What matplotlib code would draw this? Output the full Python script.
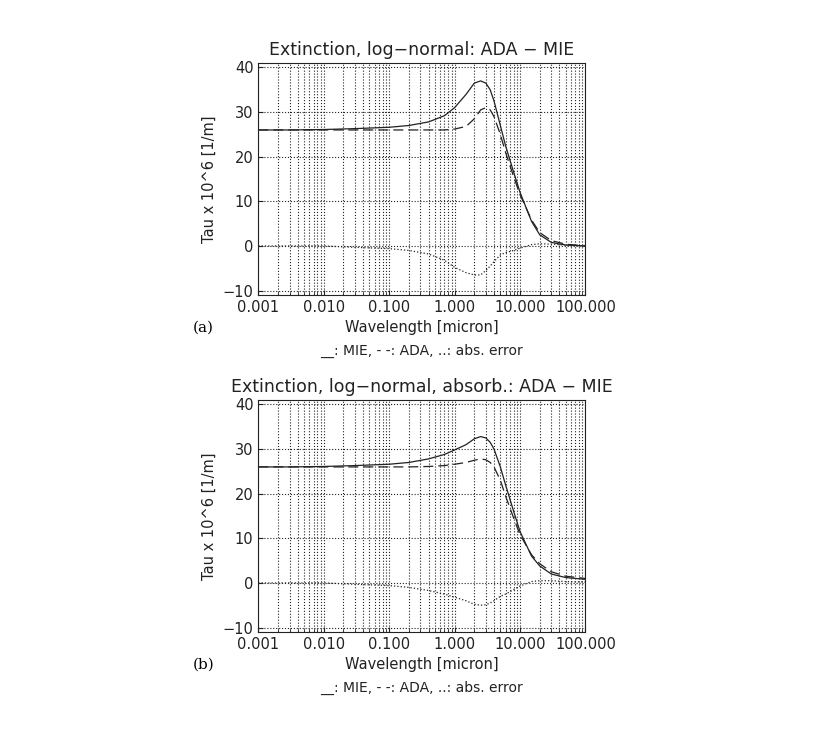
import numpy as np
import matplotlib
matplotlib.use("Agg")
import matplotlib.pyplot as plt

wl = [0.001, 0.003, 0.01, 0.03, 0.1, 0.2, 0.4, 0.7, 1.0, 1.5, 2.0, 2.5, 3.0, 3.5, 4.0, 5.0, 6.0, 8.0, 10.0, 15.0, 20.0, 30.0, 50.0, 100.0]
mie_a = [26.0, 26.0, 26.1, 26.3, 26.6, 27.0, 27.8, 29.2, 31.0, 34.0, 36.5, 37.0, 36.5, 35.0, 32.5, 27.0, 22.5, 16.5, 12.0, 5.5, 2.5, 0.8, 0.2, 0.0]
ada_a = [26.0, 26.0, 26.0, 26.0, 26.0, 26.0, 26.0, 26.0, 26.2, 26.8, 28.5, 30.5, 31.0, 30.5, 29.0, 25.0, 21.0, 15.5, 11.5, 5.8, 3.0, 1.2, 0.4, 0.0]
err_a = [0.0, 0.0, 0.0, -0.3, -0.6, -1.0, -1.8, -3.2, -4.8, -6.0, -6.5, -6.5, -5.5, -4.5, -3.5, -2.0, -1.5, -1.0, -0.5, 0.3, 0.5, 0.4, 0.2, 0.0]
mie_b = [26.0, 26.0, 26.1, 26.3, 26.6, 27.0, 27.8, 28.8, 29.8, 31.0, 32.3, 32.8, 32.5, 31.5, 30.0, 26.0, 22.0, 16.0, 11.5, 6.0, 3.8, 2.0, 1.2, 0.8]
ada_b = [26.0, 26.0, 26.0, 26.0, 26.0, 26.0, 26.1, 26.3, 26.6, 27.0, 27.5, 27.8, 27.6, 27.0, 26.0, 23.0, 19.5, 14.5, 10.8, 6.3, 4.3, 2.5, 1.5, 1.0]
err_b = [0.0, 0.0, 0.0, -0.3, -0.6, -1.0, -1.7, -2.5, -3.2, -4.0, -4.8, -5.0, -4.9, -4.5, -4.0, -3.0, -2.5, -1.5, -0.7, 0.3, 0.5, 0.5, 0.3, 0.2]
xticks = [0.001, 0.01, 0.1, 1.0, 10.0, 100.0]
xticklabels = ["0.001", "0.010", "0.100", "1.000", "10.000", "100.000"]
titles = ["Extinction, log\u2212normal: ADA \u2212 MIE", "Extinction, log\u2212normal, absorb.: ADA \u2212 MIE"]
panel = ["(a)", "(b)"]

fig = plt.figure(figsize=(8.2, 7.33), dpi=100)
c = "#222222"
for i, (m, a, e) in enumerate([(mie_a, ada_a, err_a), (mie_b, ada_b, err_b)]):
    bottom = 0.5975 if i == 0 else 0.1378
    ax = fig.add_axes([0.315, bottom, 0.399, 0.3165])
    ax.plot(wl, m, color=c, lw=0.9, ls="-")
    ax.plot(wl, a, color=c, lw=0.9, ls=(0, (8, 4)))
    ax.plot(wl, e, color=c, lw=0.9, ls=":")
    ax.set_xscale("log")
    ax.set_xlim(0.001, 100)
    ax.set_ylim(-11, 41)
    ax.set_yticks([-10, 0, 10, 20, 30, 40])
    ax.set_yticklabels(["\u221210", "0", "10", "20", "30", "40"])
    ax.set_xticks(xticks)
    ax.set_xticklabels(xticklabels)
    ax.grid(True, which="both", axis="x", ls=":", color=c, lw=0.8)
    ax.grid(True, which="major", axis="y", ls=":", color=c, lw=0.8)
    ax.tick_params(which="both", direction="in", labelsize=10.5, colors=c)
    for s in ax.spines.values():
        s.set_color(c)
    ax.set_title(titles[i], fontsize=12.5, color=c)
    ax.set_xlabel("Wavelength [micron]", fontsize=10.5, color=c)
    ax.set_ylabel("Tau x 10^6 [1/m]", fontsize=10.5, color=c)
    ax.text(-0.2, -0.16, panel[i], transform=ax.transAxes, fontsize=11, family="serif")
    ax.text(0.5, -0.26, "__: MIE, - -: ADA, ..: abs. error", transform=ax.transAxes,
            fontsize=10, ha="center", color=c)
fig.savefig("out.png", dpi=100, facecolor="white")
